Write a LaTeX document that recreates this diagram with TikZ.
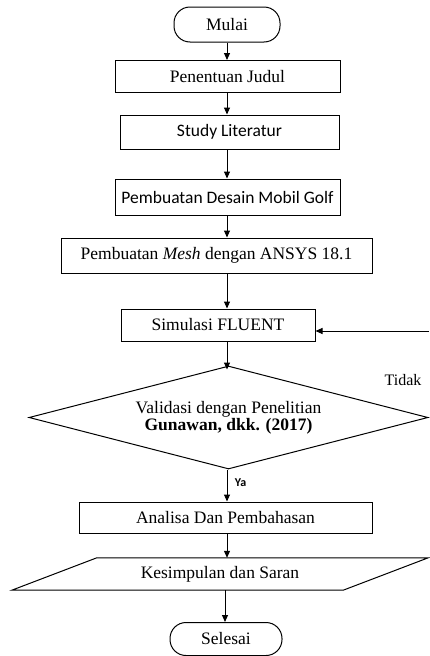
\documentclass[tikz,border=0pt]{standalone}
\usepackage{fontspec}
\setmainfont{Liberation Serif}
\newfontfamily\carl{Carlito}
\usetikzlibrary{shapes.geometric,arrows.meta}
\begin{document}
\begin{tikzpicture}[x=1pt,y=-1pt,
  font=\fontsize{17.5}{17}\selectfont,
  box/.style={draw, line width=1pt, inner sep=0pt, align=center},
  term/.style={box, rounded corners=16pt},
  sansbox/.style={box, font=\carl\fontsize{17.5}{17}\selectfont},
  arr/.style={line width=1pt, -{Triangle[length=7pt,width=6pt]}}]
\useasboundingbox (0,0) rectangle (429,656);
\coordinate (ax) at (227,0);
\coordinate (bx) at (225,0);

\node[term, minimum width=106pt, minimum height=35pt] (mulai) at (227,24.5) {Mulai};
\node[box, minimum width=225pt, minimum height=32pt] (judul) at (227.5,76.5) {Penentuan Judul};
\node[sansbox, minimum width=219pt, minimum height=34pt] (studi) at (229.5,132) {Study Literatur};
\node[sansbox, minimum width=225pt, minimum height=36pt] (desain) at (227.5,197) {Pembuatan Desain Mobil Golf};
\node[box, minimum width=311pt, minimum height=35pt] (mesh) at (216.5,255.5) {Pembuatan \textit{Mesh} dengan ANSYS 18.1};
\node[box, minimum width=194pt, minimum height=32pt] (sim) at (218,325) {Simulasi FLUENT};
\node[box, diamond, aspect=3.87, minimum width=399pt, minimum height=103pt] (val) at (228.5,417.5)
  {Validasi dengan Penelitian\\\textbf{Gunawan, dkk. (2017)}};
\node[font=\fontsize{16}{18}\selectfont] (tidak) at (403,380) {Tidak};
\node[font=\carl\bfseries\fontsize{12}{14}\selectfont] (ya) at (240.5,483) {Ya};
\node[box, minimum width=293pt, minimum height=31pt] (analisa) at (225.5,517.5) {Analisa Dan Pembahasan};
\node[inner sep=0pt, minimum width=246pt, minimum height=32pt] (kes) at (220,574) {Kesimpulan dan Saran};
\draw[line width=1pt] (kes.north west) -- ([xshift=85pt]kes.north east) -- (kes.south east)
  -- ([xshift=-85pt]kes.south west) -- cycle;
\node[term, minimum width=112pt, minimum height=33pt] (selesai) at (226,639) {Selesai};

\draw[arr] (mulai.south -| ax) -- (judul.north -| ax);
\draw[arr] (judul.south -| ax) -- (studi.north -| ax);
\draw[arr] (studi.south -| ax) -- (desain.north -| ax);
\draw[arr] (desain.south -| ax) -- (mesh.north -| ax);
\draw[arr] (mesh.south -| ax) -- (sim.north -| ax);
\draw[arr] (sim.south -| ax) -- ([yshift=-4pt]val.north -| ax);
\draw[arr] (val.south -| ax) -- (analisa.north -| ax);
\draw[arr] (analisa.south -| ax) -- (kes.north -| ax);
\draw[arr] (kes.south -| bx) -- (selesai.north -| bx);
\coordinate (fb) at (429,331);
\draw[arr] (fb) -- (fb -| sim.east);
\end{tikzpicture}
\end{document}
